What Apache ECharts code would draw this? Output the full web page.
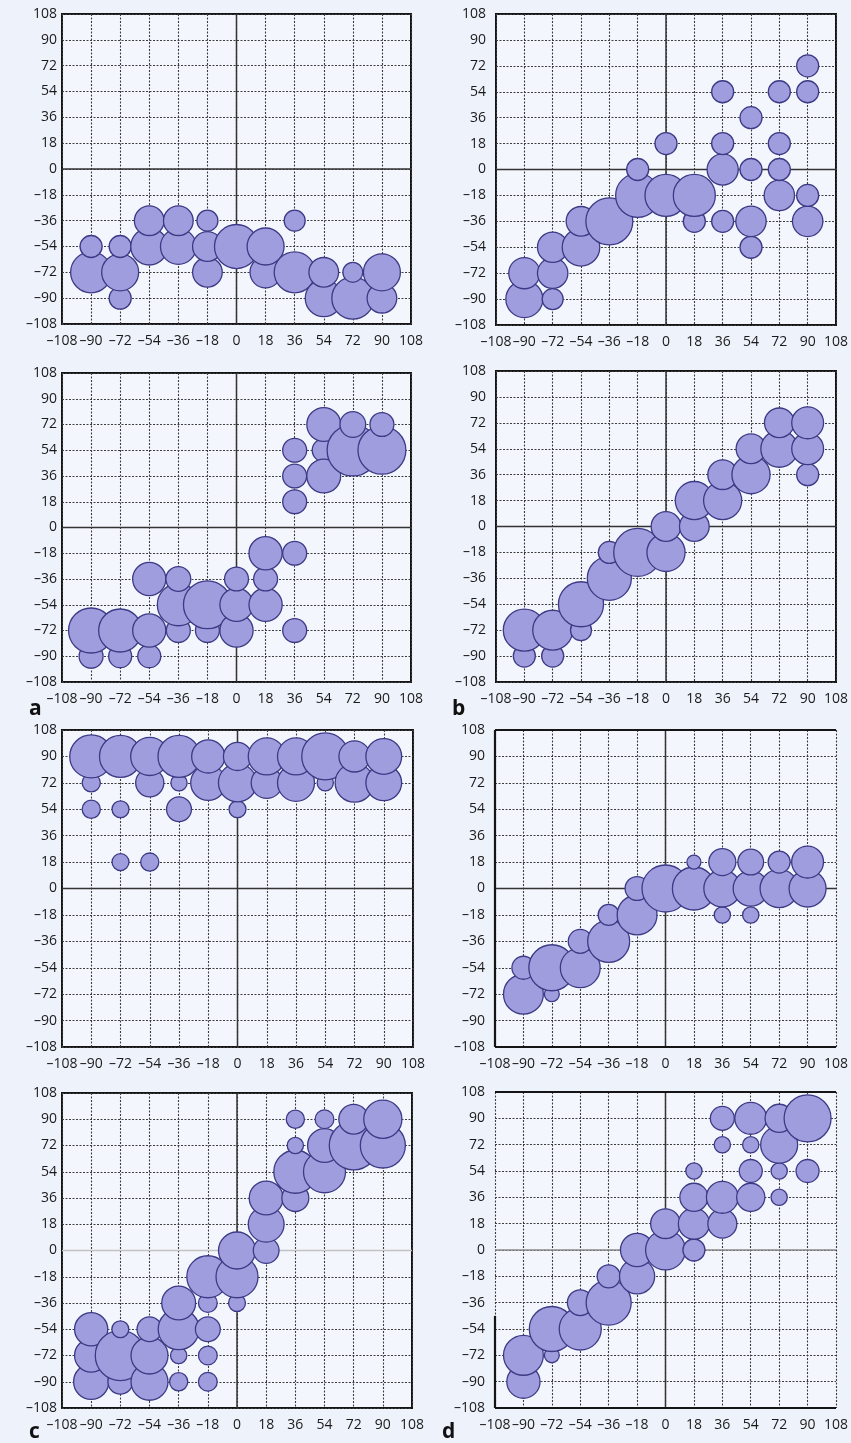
<!DOCTYPE html>
<html>
<head>
<meta charset="utf-8">
<script src="https://cdn.jsdelivr.net/npm/echarts@6/dist/echarts.min.js"></script>
<style>
  html, body { margin: 0; padding: 0; background: #eef2fb; }
  #chart { width: 851px; height: 1443px; }
</style>
</head>
<body>
<div id="chart"></div>
<script>
// axis setup shared by all eight panels
const axisMin = -108
const axisMax = 108
const tickStep = 18

// [x, y, weight] - weight
const bubbles1 = [
  [-90, -72, 3.8], [-90, -54, 1.1],
  [-72, -90, 1.1], [-72, -72, 3.1], [-72, -54, 1.1],
  [-54, -54, 3.1], [-54, -36, 2],
  [-36, -54, 2.9], [-36, -36, 2],
  [-18, -72, 2], [-18, -54, 2], [-18, -36, 1],
  [0, -54, 4.4],
  [18, -72, 2.2], [18, -54, 3.1],
  [36, -72, 3.8], [36, -36, 1],
  [54, -90, 3.1], [54, -72, 2],
  [72, -90, 4], [72, -72, 0.9],
  [90, -90, 2], [90, -72, 3.1]
]

const bubbles2 = [
  [-90, -90, 3.1], [-90, -72, 2.2],
  [-72, -90, 1], [-72, -72, 2.1], [-72, -54, 2.1],
  [-54, -54, 3.2], [-54, -36, 2],
  [-36, -36, 5],
  [-18, -18, 4.4], [-18, 0, 1.1],
  [0, -18, 4], [0, 18, 1.1],
  [18, -36, 1.1], [18, -18, 4],
  [36, -36, 1.1], [36, 0, 2.2], [36, 18, 1.1], [36, 54, 1.1],
  [54, -54, 1.1], [54, -36, 2.1], [54, 0, 1.1], [54, 36, 1.1],
  [72, -18, 2.1], [72, 0, 1.1], [72, 18, 1.1], [72, 54, 1.1],
  [90, -36, 2.1], [90, -18, 1.1], [90, 54, 1.1], [90, 72, 1.1]
]

const bubbles3 = [
  [-90, -90, 1.3], [-90, -72, 4.6],
  [-72, -90, 1.2], [-72, -72, 4.2],
  [-54, -90, 1.2], [-54, -72, 2.5], [-54, -36, 2.5],
  [-36, -72, 1.3], [-36, -54, 4], [-36, -36, 1.4],
  [-18, -72, 1.3], [-18, -54, 5.2],
  [0, -72, 2.5], [0, -54, 2.5], [0, -36, 1.3],
  [18, -54, 2.5], [18, -36, 1.3], [18, -18, 2.5],
  [36, -72, 1.3], [36, -18, 1.3], [36, 18, 1.3], [36, 36, 1.3], [36, 54, 1.3],
  [54, 54, 1.2], [54, 36, 2.6], [54, 72, 2.6],
  [72, 54, 6], [72, 72, 1.5],
  [90, 54, 5.2], [90, 72, 1.3]
]

const bubbles4 = [
  [-90, -90, 1.1], [-90, -72, 4],
  [-72, -90, 1.1], [-72, -72, 3.6],
  [-54, -72, 1], [-54, -54, 4.6],
  [-36, -36, 4.4], [-36, -18, 1.1],
  [-18, -18, 5.2],
  [0, -18, 3.3], [0, 0, 2],
  [18, 0, 2], [18, 18, 3.3],
  [36, 18, 3.3], [36, 36, 2],
  [54, 36, 3.3], [54, 54, 2],
  [72, 54, 3.1], [72, 72, 2],
  [90, 36, 1.1], [90, 54, 2.3], [90, 72, 2.3]
]

const bubbles5 = [
  [-90, 54, 0.75], [-90, 72, 0.75], [-90, 90, 4.2],
  [-72, 18, 0.65], [-72, 54, 0.65], [-72, 90, 4],
  [-54, 18, 0.75], [-54, 72, 1.8], [-54, 90, 3.3],
  [-36, 54, 1.4], [-36, 72, 0.6], [-36, 90, 4],
  [-18, 72, 2.8], [-18, 90, 2.5],
  [0, 54, 0.65], [0, 72, 3.3], [0, 90, 1.8],
  [18, 72, 2.2], [18, 90, 3.1],
  [36, 72, 3.1], [36, 90, 3.1],
  [54, 72, 0.6], [54, 90, 5],
  [72, 72, 3.4], [72, 90, 2.2],
  [90, 72, 2.9], [90, 90, 2.9]
]

const bubbles6 = [
  [-90, -72, 3.6], [-90, -54, 1.2],
  [-72, -72, 0.5], [-72, -54, 4.8],
  [-54, -54, 3.6], [-54, -36, 1.3],
  [-36, -36, 4], [-36, -18, 1],
  [-18, -18, 3.6], [-18, 0, 1.3],
  [0, 0, 5],
  [18, 0, 4.2], [18, 18, 0.45],
  [36, -18, 0.6], [36, 0, 3.1], [36, 18, 1.65],
  [54, -18, 0.6], [54, 0, 2.8], [54, 18, 1.5],
  [72, 0, 3.3], [72, 18, 1.1],
  [90, 0, 3.1], [90, 18, 2.3]
]

const bubbles7 = [
  [-90, -90, 2.8], [-90, -72, 2.5], [-90, -54, 2.5],
  [-72, -90, 1.4], [-72, -72, 5.7], [-72, -54, 0.65],
  [-54, -90, 3.1], [-54, -72, 3.1], [-54, -54, 1.4],
  [-36, -90, 0.75], [-36, -72, 0.6], [-36, -54, 3.8], [-36, -36, 2.6],
  [-18, -90, 0.8], [-18, -72, 0.8], [-18, -54, 1.4], [-18, -36, 0.8], [-18, -18, 4],
  [0, -36, 0.65], [0, -18, 4], [0, 0, 3.1],
  [18, 0, 1.5], [18, 18, 2.9], [18, 36, 2.6],
  [36, 36, 1.65], [36, 54, 4.2], [36, 72, 0.6], [36, 90, 0.75],
  [54, 54, 4], [54, 72, 2.6], [54, 90, 0.8],
  [72, 72, 5.4], [72, 90, 2],
  [90, 72, 4.6], [90, 90, 3.3]
]

const bubbles8 = [
  [-90, -90, 2.5], [-90, -72, 3.6],
  [-72, -72, 0.5], [-72, -54, 4.6],
  [-54, -54, 4], [-54, -36, 1.5],
  [-36, -36, 4.6], [-36, -18, 1.2],
  [-18, -18, 2.8], [-18, 0, 2.5],
  [0, 0, 3.6], [0, 18, 2],
  [18, 0, 1.1], [18, 18, 2.2], [18, 36, 1.8], [18, 54, 0.6],
  [36, 18, 1.9], [36, 36, 2.3], [36, 72, 0.6], [36, 90, 1.3],
  [54, 36, 1.8], [54, 54, 1.2], [54, 72, 0.6], [54, 90, 2.3],
  [72, 36, 0.6], [72, 54, 0.6], [72, 72, 3.1], [72, 90, 1.8],
  [90, 54, 1.2], [90, 90, 5]
]

const panelData = [bubbles1, bubbles2, bubbles3, bubbles4, bubbles5, bubbles6, bubbles7, bubbles8]
const panelLetters = ['a', 'b', 'c', 'd']

// plot boxes, page pixels
const boxes = [
  { left: 62, top: 14, width: 349, height: 310 },
  { left: 496, top: 14, width: 345, height: 311 },
  { left: 62, top: 373, width: 349, height: 309 },
  { left: 496, top: 371, width: 345, height: 311 },
  { left: 62, top: 730, width: 351, height: 317 },
  { left: 495, top: 730, width: 347, height: 317 },
  { left: 62, top: 1093, width: 350, height: 315 },
  { left: 495, top: 1092, width: 347, height: 316 }
]
const letterPos = [
  { left: 29, top: 699 }, { left: 452, top: 699 },
  { left: 29, top: 1422 }, { left: 442, top: 1422 }
]

// color of the y = 0 line per panel (last two are lighter in the original)
const zeroRowColor = ['#333', '#333', '#333', '#333', '#333', '#333', '#c2c2c2', '#8a8a8a']

const FONT = '"Open Sans", "Noto Sans", sans-serif'
// the original uses a long dash for negatives
const minus = v => String(v).replace('-', '\u2013')

const chart = echarts.init(document.getElementById('chart'))

const grid = []
const xAxis = []
const yAxis = []
const series = []

boxes.forEach((b, i) => {
  const openFrame = i === 5 || i === 7
  grid.push({
    left: b.left, top: b.top, width: b.width, height: b.height,
    show: true,
    backgroundColor: '#f3f6fd',
    borderColor: '#151515',
    borderWidth: openFrame ? 0 : 2
  })
  const split = { show: true, lineStyle: { color: '#3c3c3c', type: [2, 1.5], width: 1.1 } }
  xAxis.push({
    type: 'value', gridIndex: i, min: axisMin, max: axisMax, interval: tickStep,
    axisLine: { show: false }, axisTick: { show: false },
    splitLine: split,
    axisLabel: { margin: 10, fontSize: 14, color: '#1a1a1a', fontFamily: FONT, formatter: minus }
  })
  yAxis.push({
    type: 'value', gridIndex: i, min: axisMin, max: axisMax, interval: tickStep,
    axisLine: { show: false }, axisTick: { show: false },
    splitLine: split,
    axisLabel: { margin: i % 2 === 0 ? 5 : 10, fontSize: 14, color: '#1a1a1a', fontFamily: FONT, formatter: minus }
  })

  // zero lines
  series.push({
    type: 'line', xAxisIndex: i, yAxisIndex: i, silent: true, showSymbol: false, z: 2,
    data: [[0, axisMin], [0, axisMax]],
    lineStyle: { color: '#333', width: 1.5 }
  })
  series.push({
    type: 'line', xAxisIndex: i, yAxisIndex: i, silent: true, showSymbol: false, z: 2,
    data: [[axisMin, 0], [axisMax, 0]],
    lineStyle: { color: zeroRowColor[i], width: 1.5 }
  })

  // partial frames for the two panels that have them
  if (openFrame) {
    const segs = [
      [[axisMin, axisMax], [axisMax, axisMax]],
      [[axisMin, axisMin], [axisMax, axisMin]],
      i === 5 ? [[axisMin, axisMin], [axisMin, axisMax]] : [[axisMin, axisMin], [axisMin, -45]]
    ]
    segs.forEach(seg => series.push({
      type: 'line', xAxisIndex: i, yAxisIndex: i, silent: true, showSymbol: false, clip: false, z: 4,
      data: seg, lineStyle: { color: '#151515', width: 2.2 }
    }))
  }

  series.push({
    type: 'scatter', xAxisIndex: i, yAxisIndex: i, z: 3,
    data: panelData[i],
    symbolSize: v => 21 * Math.sqrt(v[2]),
    itemStyle: { color: '#a09ddf', borderColor: '#3d3a85', borderWidth: 1.3, opacity: 1 }
  })
})

const title = panelLetters.map((t, k) => ({
  text: t, left: letterPos[k].left, top: letterPos[k].top, padding: 0,
  textStyle: { fontSize: 21, fontWeight: 'bold', color: '#111', fontFamily: FONT }
}))

chart.setOption({
  backgroundColor: '#eef2fb',
  animation: false,
  title,
  grid,
  xAxis,
  yAxis,
  series
})

window.addEventListener('resize', () => chart.resize())
</script>
</body>
</html>
